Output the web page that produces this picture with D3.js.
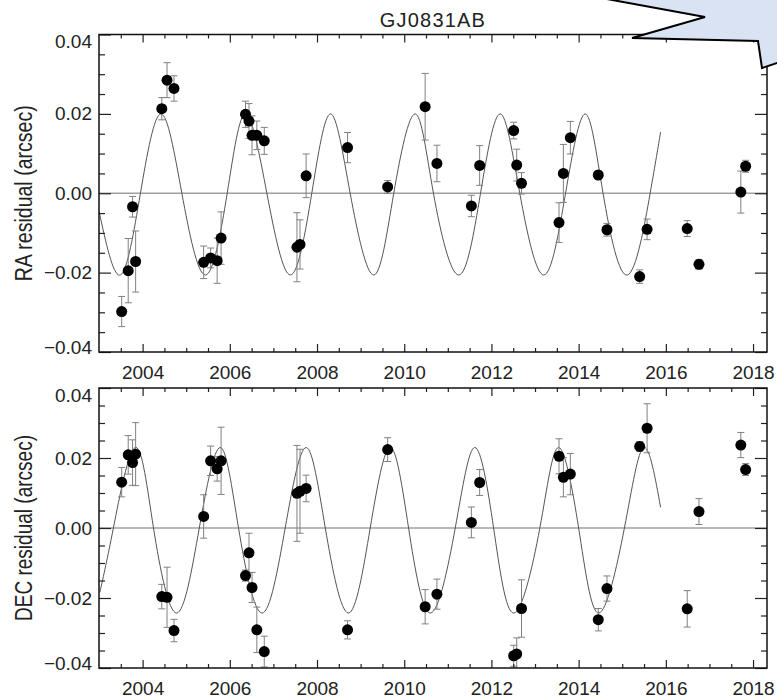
<!DOCTYPE html>
<html>
<head>
<meta charset="utf-8">
<script src="https://cdn.jsdelivr.net/npm/d3@7"></script>
<style>
body { margin: 0; background: #fff; }
svg { display: block; font-family: "Liberation Sans", Arial, sans-serif; }
</style>
</head>
<body>
<script>
// observation epochs (shared by both panels)
var epochs = [2003.52, 2003.67, 2003.77, 2003.84, 2004.44, 2004.56, 2004.72, 2005.40, 2005.56, 2005.71,
              2005.80, 2006.36, 2006.44, 2006.51, 2006.62, 2006.79, 2007.54, 2007.61, 2007.75, 2008.70,
              2009.62, 2010.48, 2010.75, 2011.54, 2011.73, 2012.51, 2012.58, 2012.69, 2013.55, 2013.65,
              2013.81, 2014.45, 2014.65, 2015.40, 2015.57, 2016.49, 2016.76, 2017.72, 2017.83];

var raResid = [-0.0298, -0.0195, -0.0034, -0.0172, 0.0213, 0.0285, 0.0264, -0.0174, -0.0163, -0.0170,
               -0.0113, 0.0199, 0.0182, 0.0146, 0.0146, 0.0132, -0.0136, -0.0129, 0.0044, 0.0115,
               0.0016, 0.0218, 0.0075, -0.0032, 0.0070, 0.0158, 0.0071, 0.0025, -0.0074, 0.0050,
               0.0140, 0.0046, -0.0092, -0.0210, -0.0091, -0.0089, -0.0179, 0.0003, 0.0068];
var raErr = [0.0038, 0.0081, 0.0026, 0.0077, 0.0028, 0.0044, 0.0032, 0.0041, 0.0025, 0.0057,
             0.0066, 0.0033, 0.0044, 0.0049, 0.0036, 0.0034, 0.0087, 0.0062, 0.0055, 0.0038,
             0.0016, 0.0084, 0.0046, 0.0027, 0.0050, 0.0021, 0.0040, 0.0027, 0.0050, 0.0073,
             0.0041, 0.0010, 0.0016, 0.0017, 0.0026, 0.0020, 0.0012, 0.0053, 0.0015];

var decResid = [0.0131, 0.0209, 0.0187, 0.0211, -0.0196, -0.0198, -0.0293, 0.0033, 0.0192, 0.0169,
                0.0192, -0.0136, -0.0071, -0.0170, -0.0291, -0.0353, 0.0099, 0.0105, 0.0113, -0.0291,
                0.0224, -0.0225, -0.0189, 0.0016, 0.0130, -0.0365, -0.0360, -0.0230, 0.0205, 0.0145,
                0.0154, -0.0262, -0.0173, 0.0233, 0.0285, -0.0231, 0.0047, 0.0237, 0.0167];
var decErr = [0.0042, 0.0055, 0.0065, 0.0090, 0.0035, 0.0086, 0.0032, 0.0062, 0.0042, 0.0035,
              0.0096, 0.0016, 0.0056, 0.0043, 0.0065, 0.0044, 0.0137, 0.0120, 0.0038, 0.0026,
              0.0034, 0.0049, 0.0043, 0.0044, 0.0037, 0.0030, 0.0046, 0.0082, 0.0050, 0.0056,
              0.0059, 0.0032, 0.0036, 0.0014, 0.0070, 0.0052, 0.0037, 0.0036, 0.0017];

// orbit fit: start, troughs, crossings, peaks, end
var raFitT = [2003.00, 2003.49, 2003.95, 2004.42, 2004.90, 2005.44, 2005.94, 2006.36, 2006.85, 2007.39,
              2007.88, 2008.31, 2008.76, 2009.30, 2009.76, 2010.25, 2010.67, 2011.25, 2011.75, 2012.20,
              2012.65, 2013.20, 2013.70, 2014.15, 2014.56, 2015.12, 2015.64, 2015.88];
var raFitV = [-0.0045, -0.0206, 0.0, 0.0200, 0.0, -0.0206, 0.0, 0.0200, 0.0, -0.0206,
              0.0, 0.0200, 0.0, -0.0206, 0.0, 0.0200, 0.0, -0.0206, 0.0, 0.0200,
              0.0, -0.0206, 0.0, 0.0200, 0.0, -0.0206, 0.0, 0.0154];

var decFitT = [2003.02, 2003.33, 2003.83, 2004.25, 2004.78, 2005.30, 2005.78, 2006.20, 2006.74, 2007.27,
               2007.75, 2008.19, 2008.72, 2009.22, 2009.68, 2010.10, 2010.60, 2011.17, 2011.62, 2012.05,
               2012.51, 2013.11, 2013.54, 2014.00, 2014.46, 2015.05, 2015.49, 2015.88];
var decFitV = [-0.0184, 0.0, 0.0230, 0.0, -0.0243, 0.0, 0.0230, 0.0, -0.0243, 0.0,
               0.0230, 0.0, -0.0243, 0.0, 0.0230, 0.0, -0.0243, 0.0, 0.0230, 0.0,
               -0.0243, 0.0, 0.0230, 0.0, -0.0243, 0.0, 0.0230, 0.0059];

var xTicks = [2004, 2006, 2008, 2010, 2012, 2014, 2016, 2018];
var yTicks = [-0.04, -0.02, 0.00, 0.02, 0.04];

var width = 777, height = 699;
var left = 99, right = 767;

var svg = d3.select("body").append("svg")
    .attr("width", width)
    .attr("height", height);

var x = d3.scaleLinear().domain([2003.0, 2018.32]).range([left, right]);

var xMinor = d3.range(2003.5, 2018.3, 0.5).filter(function(t) { return t % 2 !== 0; });
var yMinor = d3.range(-7, 8).filter(function(k) { return k % 4 !== 0; })
    .map(function(k) { return k * 0.005; });

var panels = [
    {id: "ra", label: "RA residual (arcsec)", labelLen: 176, top: 34.5, bottom: 352,
     v: raResid, e: raErr, ft: raFitT, fv: raFitV},
    {id: "dec", label: "DEC residual (arcsec)", labelLen: 186, top: 388, bottom: 668,
     v: decResid, e: decErr, ft: decFitT, fv: decFitV}
];

function styleAxis(g) {
    g.select(".domain").remove();
    g.attr("font-size", 19).attr("font-family", "'Liberation Sans', Arial, sans-serif");
    g.selectAll(".tick line").attr("stroke", "#222").attr("stroke-width", 1.2);
    g.selectAll(".tick text").attr("fill", "#222");
}

panels.forEach(function(p) {
    var y = d3.scaleLinear().domain([-0.04, 0.04]).range([p.bottom, p.top]);

    svg.append("clipPath").attr("id", "clip-" + p.id)
        .append("rect")
        .attr("x", left).attr("y", p.top)
        .attr("width", right - left).attr("height", p.bottom - p.top);

    var inner = svg.append("g").attr("clip-path", "url(#clip-" + p.id + ")");

    // zero line
    inner.append("line")
        .attr("x1", left).attr("x2", right)
        .attr("y1", y(0)).attr("y2", y(0))
        .attr("stroke", "#a0a0a0")
        .attr("stroke-width", 1.6);

    // fitted orbit
    var line = d3.line()
        .curve(d3.curveNatural)
        .x(function(d) { return x(d[0]); })
        .y(function(d) { return y(d[1]); });

    inner.append("path")
        .datum(d3.zip(p.ft, p.fv))
        .attr("d", line)
        .attr("fill", "none")
        .attr("stroke", "#555")
        .attr("stroke-width", 1);

    var pts = epochs.map(function(t, i) { return {t: t, v: p.v[i], e: p.e[i]}; });

    // error bars
    var eb = inner.append("g")
        .attr("stroke", "#808080")
        .attr("stroke-width", 1)
        .selectAll("g")
        .data(pts)
        .enter().append("g");

    eb.append("line")
        .attr("x1", function(d) { return x(d.t); })
        .attr("x2", function(d) { return x(d.t); })
        .attr("y1", function(d) { return y(d.v + d.e); })
        .attr("y2", function(d) { return y(d.v - d.e); });

    [1, -1].forEach(function(s) {
        eb.append("line")
            .attr("x1", function(d) { return x(d.t) - 3.5; })
            .attr("x2", function(d) { return x(d.t) + 3.5; })
            .attr("y1", function(d) { return y(d.v + s * d.e); })
            .attr("y2", function(d) { return y(d.v + s * d.e); });
    });

    // data points
    inner.append("g")
        .selectAll("circle")
        .data(pts)
        .enter().append("circle")
        .attr("cx", function(d) { return x(d.t); })
        .attr("cy", function(d) { return y(d.v); })
        .attr("r", 5.5)
        .attr("fill", "#000");

    // axes, ticks pointing inward on all four sides
    svg.append("g")
        .attr("transform", "translate(0," + p.bottom + ")")
        .call(d3.axisBottom(x).tickValues(xTicks).tickSize(-8).tickPadding(14).tickFormat(d3.format("d")))
        .call(styleAxis);
    svg.append("g")
        .attr("transform", "translate(0," + p.bottom + ")")
        .call(d3.axisBottom(x).tickValues(xMinor).tickSize(-4).tickFormat(""))
        .call(styleAxis);
    svg.append("g")
        .attr("transform", "translate(0," + p.top + ")")
        .call(d3.axisTop(x).tickValues(xTicks).tickSize(-8).tickFormat(""))
        .call(styleAxis);
    svg.append("g")
        .attr("transform", "translate(0," + p.top + ")")
        .call(d3.axisTop(x).tickValues(xMinor).tickSize(-4).tickFormat(""))
        .call(styleAxis);

    var yAxis = svg.append("g")
        .attr("transform", "translate(" + left + ",0)")
        .call(d3.axisLeft(y).tickValues(yTicks).tickSize(-12).tickPadding(7).tickFormat(d3.format(".2f")))
        .call(styleAxis);
    yAxis.selectAll(".tick text")
        .attr("y", function(d) { return d === 0.04 ? 7 : (d === -0.04 ? -5 : 0); });
    svg.append("g")
        .attr("transform", "translate(" + left + ",0)")
        .call(d3.axisLeft(y).tickValues(yMinor).tickSize(-6).tickFormat(""))
        .call(styleAxis);
    svg.append("g")
        .attr("transform", "translate(" + right + ",0)")
        .call(d3.axisRight(y).tickValues(yTicks).tickSize(-12).tickFormat(""))
        .call(styleAxis);
    svg.append("g")
        .attr("transform", "translate(" + right + ",0)")
        .call(d3.axisRight(y).tickValues(yMinor).tickSize(-6).tickFormat(""))
        .call(styleAxis);

    // frame
    svg.append("rect")
        .attr("x", left).attr("y", p.top)
        .attr("width", right - left).attr("height", p.bottom - p.top)
        .attr("fill", "none")
        .attr("stroke", "#111")
        .attr("stroke-width", 1.5);

    // y axis title
    svg.append("text")
        .attr("transform", "translate(32," + ((p.top + p.bottom) / 2) + ") rotate(-90)")
        .attr("text-anchor", "middle")
        .attr("font-size", 23)
        .attr("textLength", p.labelLen)
        .attr("lengthAdjust", "spacingAndGlyphs")
        .attr("fill", "#222")
        .text(p.label);
});

// title
svg.append("text")
    .attr("x", (left + right) / 2)
    .attr("y", 27)
    .attr("text-anchor", "middle")
    .attr("font-size", 20)
    .attr("letter-spacing", 1.2)
    .attr("fill", "#222")
    .text("GJ0831AB");

// callout shape covering the top right corner
var callout = [[596, -3], [705, 17], [632, 38], [758, 41], [762, 68], [780, 62], [780, -3]];
svg.append("polygon")
    .attr("points", callout.map(function(d) { return d.join(","); }).join(" "))
    .attr("fill", "#dae3f3")
    .attr("stroke", "#000")
    .attr("stroke-width", 2);
</script>
</body>
</html>
